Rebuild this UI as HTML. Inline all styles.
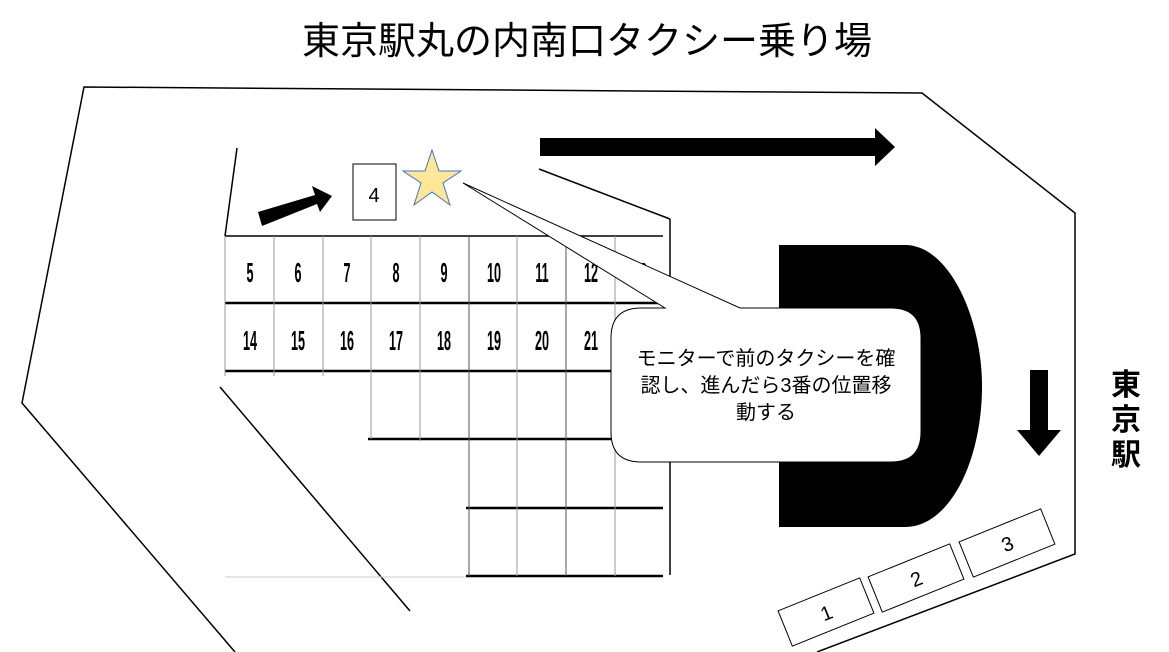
<!DOCTYPE html>
<html><head><meta charset="utf-8"><style>
html,body{margin:0;padding:0;background:#fff;}
svg{display:block;}
.t{font-family:"Liberation Sans","Noto Sans CJK JP",sans-serif;}
.n{font-family:"Liberation Sans",sans-serif;font-weight:bold;font-size:28px;}
</style></head><body>
<svg width="1169" height="652" viewBox="0 0 1169 652" xmlns="http://www.w3.org/2000/svg">
<text class="t" x="587" y="54" font-size="38" text-anchor="middle" fill="#000">東京駅丸の内南口タクシー乗り場</text>
<polyline points="235,652 22,403 84,87 922,93 1075,213 1075,554 817,652" fill="none" stroke="#000" stroke-width="1.5"/>
<line x1="237" y1="148" x2="225" y2="236" stroke="#000" stroke-width="1.5"/>
<line x1="220" y1="387" x2="410" y2="611" stroke="#000" stroke-width="1.5"/>
<line x1="539" y1="169" x2="670" y2="219" stroke="#000" stroke-width="1.5"/>
<line x1="670" y1="219" x2="670" y2="575" stroke="#000" stroke-width="1.5"/>
<g stroke="#000">
<line x1="225" y1="236" x2="663" y2="236" stroke-width="1.5"/>
<line x1="225" y1="303" x2="663" y2="303" stroke-width="2.5"/>
<line x1="225" y1="371" x2="663" y2="371" stroke-width="2.5"/>
<line x1="368" y1="439" x2="663" y2="439" stroke-width="2.5"/>
<line x1="466" y1="508" x2="663" y2="508" stroke-width="2.5"/>
<line x1="466" y1="576" x2="663" y2="576" stroke-width="2.5"/>
</g>
<line x1="225" y1="577" x2="466" y2="577" stroke="#ccc" stroke-width="1"/>
<g stroke="#999" stroke-width="1">
<line x1="225" y1="236" x2="225" y2="376"/>
<line x1="274" y1="236" x2="274" y2="376"/>
<line x1="323" y1="236" x2="323" y2="376"/>
<line x1="371" y1="236" x2="371" y2="439"/>
<line x1="420" y1="236" x2="420" y2="441"/>
<line x1="469" y1="236" x2="469" y2="576" stroke="#555"/>
<line x1="517" y1="236" x2="517" y2="576"/>
<line x1="566" y1="236" x2="566" y2="576" stroke="#555"/>
<line x1="615" y1="236" x2="615" y2="576"/>
</g>
<g class="n" text-anchor="middle" fill="#000">
<text x="250" y="282" transform="scale(0.45,1)" transform-origin="250 282">5</text>
<text x="298" y="282" transform="scale(0.45,1)" transform-origin="298 282">6</text>
<text x="347" y="282" transform="scale(0.45,1)" transform-origin="347 282">7</text>
<text x="396" y="282" transform="scale(0.45,1)" transform-origin="396 282">8</text>
<text x="444" y="282" transform="scale(0.45,1)" transform-origin="444 282">9</text>
<text x="494" y="282" transform="scale(0.45,1)" transform-origin="494 282">10</text>
<text x="542" y="282" transform="scale(0.45,1)" transform-origin="542 282">11</text>
<text x="591" y="282" transform="scale(0.45,1)" transform-origin="591 282">12</text>
<text x="640" y="282" transform="scale(0.45,1)" transform-origin="640 282">13</text>
<text x="250" y="350" transform="scale(0.45,1)" transform-origin="250 350">14</text>
<text x="298" y="350" transform="scale(0.45,1)" transform-origin="298 350">15</text>
<text x="347" y="350" transform="scale(0.45,1)" transform-origin="347 350">16</text>
<text x="396" y="350" transform="scale(0.45,1)" transform-origin="396 350">17</text>
<text x="444" y="350" transform="scale(0.45,1)" transform-origin="444 350">18</text>
<text x="494" y="350" transform="scale(0.45,1)" transform-origin="494 350">19</text>
<text x="542" y="350" transform="scale(0.45,1)" transform-origin="542 350">20</text>
<text x="591" y="350" transform="scale(0.45,1)" transform-origin="591 350">21</text>
</g>
<rect x="353" y="164" width="43" height="56" fill="#fff" stroke="#000" stroke-width="1"/>
<text class="t" x="374" y="202" font-size="20" text-anchor="middle">4</text>
<polygon points="432,150 439,171 461,171 443,183 450,205 432,192 414,205 421,183 403,171 425,171" fill="#ffe699" stroke="#4472c4" stroke-width="1"/>
<polygon points="258,212 315,195 312,186 332,196 320,212 317,204 262,226" fill="#000"/>
<polygon points="540,138 875,138 875,128 895,147 875,166 875,156 540,156" fill="#000"/>
<polygon points="1030,370 1048,370 1048,430 1061,430 1039,456 1017,430 1030,430" fill="#000"/>
<path d="M779,245 L905,245 C950,245 982,320 982,386 C982,460 950,527 905,527 L779,527 Z" fill="#000"/>
<path d="M641,308 L665,308 L463,183 L740,308 L891,308 Q921,308 921,338 L921,432 Q921,462 891,462 L641,462 Q611,462 611,432 L611,338 Q611,308 641,308 Z" fill="#fff" stroke="#000" stroke-width="1"/>
<g class="t" font-size="20" text-anchor="middle" fill="#000">
<text x="766" y="365">モニターで前のタクシーを確</text>
<text x="766" y="392">認し、進んだら3番の位置移</text>
<text x="766" y="419">動する</text>
</g>
<g class="t" font-size="30" font-weight="bold" text-anchor="middle" fill="#000">
<text x="1126" y="395">東</text>
<text x="1126" y="430">京</text>
<text x="1126" y="465">駅</text>
</g>
<g transform="translate(826,612) rotate(-22)"><rect x="-44" y="-19" width="88" height="38" fill="#fff" stroke="#000"/><text class="t" x="0" y="8" font-size="20" text-anchor="middle">1</text></g>
<g transform="translate(916,578) rotate(-22)"><rect x="-44" y="-19" width="88" height="38" fill="#fff" stroke="#000"/><text class="t" x="0" y="8" font-size="20" text-anchor="middle">2</text></g>
<g transform="translate(1007,543) rotate(-22)"><rect x="-44" y="-19" width="88" height="38" fill="#fff" stroke="#000"/><text class="t" x="0" y="8" font-size="20" text-anchor="middle">3</text></g>
</svg>
</body></html>
